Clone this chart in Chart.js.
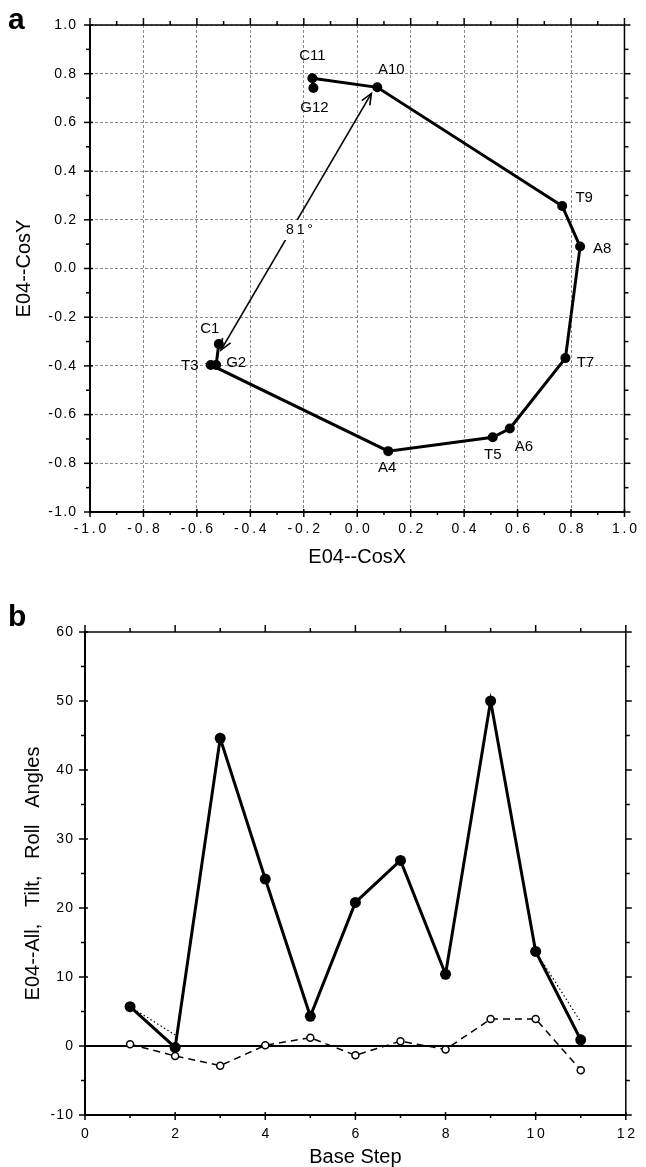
<!DOCTYPE html>
<html>
<head>
<meta charset="utf-8">
<script src="https://cdn.jsdelivr.net/npm/chart.js@4.4.1/dist/chart.umd.min.js"></script>
<style>
  html, body { margin: 0; padding: 0; background: #fff; }
  body { width: 646px; height: 1167px; position: relative; overflow: hidden; }
  .panel { position: absolute; left: 0; }
  .tag { position: absolute; left: 8px; font: bold 30px "Liberation Sans", Arial, sans-serif; line-height: 1; color: #000; }
</style>
</head>
<body>
<canvas id="cosPlot" class="panel" style="top:0" width="646" height="580"></canvas>
<canvas id="anglePlot" class="panel" style="top:580px" width="646" height="587"></canvas>
<div class="tag" style="top:4px">a</div>
<div class="tag" style="top:601px">b</div>
<script>
// Panel a: direction cosines per base step
const stepNames = ['C1', 'G2', 'T3', 'A4', 'T5', 'A6', 'T7', 'A8', 'T9', 'A10', 'C11', 'G12'];
const cosX = [-0.518, -0.528, -0.548, 0.116, 0.507, 0.571, 0.779, 0.834, 0.767, 0.075, -0.168, -0.164];
const cosY = [-0.31, -0.396, -0.396, -0.750, -0.693, -0.657, -0.368, 0.090, 0.257, 0.744, 0.781, 0.741];
const cosTicks = [-1.0, -0.8, -0.6, -0.4, -0.2, 0.0, 0.2, 0.4, 0.6, 0.8, 1.0];
const cosMinor = [-0.9, -0.7, -0.5, -0.3, -0.1, 0.1, 0.3, 0.5, 0.7, 0.9];
const arrowFrom = [-0.51, -0.335];
const arrowTo = [0.053, 0.719];
const angleText = '81°';
const angleTextAt = [-0.216, 0.158];

// Panel b: angles per base step
const baseSteps = [1, 2, 3, 4, 5, 6, 7, 8, 9, 10, 11];
const allAngle = [5.7, -0.2, 44.6, 24.2, 4.3, 20.8, 26.9, 10.4, 50.0, 13.7, 0.9];
const tiltAngle = [0.25, -1.45, -2.85, 0.1, 1.2, -1.35, 0.7, -0.5, 3.9, 3.9, -3.5];
const rollAngle = [5.7, 1.6, null, null, null, null, null, null, null, 13.7, 3.5];
const stepTicks = [0, 2, 4, 6, 8, 10, 12];
const stepMinor = [1, 3, 5, 7, 9, 11];
const angleTicks = [-10, 0, 10, 20, 30, 40, 50, 60];
const angleMinor = [-5, 5, 15, 25, 35, 45, 55];

const family = '"Liberation Sans", Arial, Helvetica, sans-serif';
const spaced = s => s.split('').join('\u2009');
const hair = s => s.split('').join('\u200A');

// label offsets (px) from each point
const labelOffsets = {
    C1: [-9, -15], G2: [20, -2], T3: [-21, 1], A4: [-1, 17], T5: [0, 18], A6: [14, 18],
    T7: [20, 5], A8: [22, 2], T9: [22, -8], A10: [14, -17], C11: [0, -22], G12: [1, 20]
};

// frame plus inward/outward ticks on all four sides
function frameTicks(xMajor, xMinor, yMajor, yMinor) {
    return {
        id: 'frameTicks',
        afterDraw(chart) {
            const { ctx, chartArea: a, scales: { x, y } } = chart;
            const line = (x1, y1, x2, y2, w) => {
                ctx.lineWidth = w;
                ctx.beginPath();
                ctx.moveTo(x1, y1);
                ctx.lineTo(x2, y2);
                ctx.stroke();
            };
            ctx.save();
            ctx.strokeStyle = '#000';
            ctx.setLineDash([]);
            line(a.left, a.top, a.right, a.top, 1.5);
            line(a.right, a.top, a.right, a.bottom, 1.5);
            line(a.left, a.bottom, a.right, a.bottom, 2);
            line(a.left, a.top - 1, a.left, a.bottom + 1, 2);
            xMajor.forEach(v => {
                const p = x.getPixelForValue(v);
                line(p, a.bottom - 3, p, a.bottom + 5, 1.5);
                line(p, a.top, p, a.top - 7, 1.5);
            });
            xMinor.forEach(v => {
                const p = x.getPixelForValue(v);
                line(p, a.bottom, p, a.bottom + 3, 1.5);
                line(p, a.top, p, a.top - 4, 1.5);
            });
            yMajor.forEach(v => {
                const p = y.getPixelForValue(v);
                line(a.left - 6, p, a.left + 3, p, 1.5);
                line(a.right, p, a.right + 6, p, 1.5);
            });
            yMinor.forEach(v => {
                const p = y.getPixelForValue(v);
                line(a.left - 4, p, a.left, p, 1.5);
                line(a.right, p, a.right + 4, p, 1.5);
            });
            ctx.restore();
        }
    };
}

const pointLabels = {
    id: 'pointLabels',
    afterDatasetsDraw(chart) {
        const { ctx } = chart;
        const meta = chart.getDatasetMeta(0);
        ctx.save();
        ctx.font = '15px ' + family;
        ctx.fillStyle = '#000';
        ctx.textAlign = 'center';
        ctx.textBaseline = 'middle';
        meta.data.forEach((pt, i) => {
            const [dx, dy] = labelOffsets[stepNames[i]];
            ctx.fillText(stepNames[i], pt.x + dx, pt.y + dy);
        });
        ctx.restore();
    }
};

const angleArrow = {
    id: 'angleArrow',
    afterDatasetsDraw(chart) {
        const { ctx, scales: { x, y } } = chart;
        const x1 = x.getPixelForValue(arrowFrom[0]), y1 = y.getPixelForValue(arrowFrom[1]);
        const x2 = x.getPixelForValue(arrowTo[0]), y2 = y.getPixelForValue(arrowTo[1]);
        ctx.save();
        ctx.strokeStyle = '#000';
        ctx.lineWidth = 1.6;
        ctx.beginPath();
        ctx.moveTo(x1, y1);
        ctx.lineTo(x2, y2);
        ctx.stroke();
        const head = (tx, ty, fx, fy) => {
            const ang = Math.atan2(ty - fy, tx - fx);
            ctx.beginPath();
            ctx.moveTo(tx - 12 * Math.cos(ang - 0.4), ty - 12 * Math.sin(ang - 0.4));
            ctx.lineTo(tx, ty);
            ctx.lineTo(tx - 12 * Math.cos(ang + 0.4), ty - 12 * Math.sin(ang + 0.4));
            ctx.stroke();
        };
        head(x2, y2, x1, y1);
        head(x1, y1, x2, y2);
        const lx = x.getPixelForValue(angleTextAt[0]), ly = y.getPixelForValue(angleTextAt[1]);
        ctx.font = '14px ' + family;
        const txt = spaced(angleText);
        const w = ctx.measureText(txt).width;
        ctx.fillStyle = '#fff';
        ctx.fillRect(lx - w / 2 - 4, ly - 10, w + 8, 20);
        ctx.fillStyle = '#000';
        ctx.textAlign = 'center';
        ctx.textBaseline = 'middle';
        ctx.fillText(txt, lx, ly);
        ctx.restore();
    }
};

new Chart(document.getElementById('cosPlot'), {
    type: 'scatter',
    data: {
        datasets: [{
            data: cosX.map((v, i) => ({ x: v, y: cosY[i] })),
            showLine: true,
            borderColor: '#000',
            borderWidth: 3,
            pointRadius: 5,
            pointBackgroundColor: '#000',
            pointBorderWidth: 0
        }]
    },
    options: {
        responsive: false,
        animation: false,
        events: [],
        layout: { padding: { left: 0, right: 14, top: 25, bottom: 0 } },
        plugins: { legend: { display: false }, tooltip: { enabled: false } },
        scales: {
            x: {
                type: 'linear', min: -1, max: 1,
                afterBuildTicks: s => { s.ticks = cosTicks.map(v => ({ value: v })); },
                afterFit: s => { s.height = 68; },
                grid: { color: '#8a8a8a', lineWidth: 1, drawTicks: false },
                border: { display: false, dash: [3, 2] },
                ticks: { padding: 9, color: '#000', maxRotation: 0, autoSkip: false, font: { size: 14, family },
                    callback: v => spaced(v.toFixed(1)) },
                title: { display: true, text: 'E04--CosX', color: '#000', font: { size: 20, family }, padding: { top: 0, bottom: 11 } }
            },
            y: {
                type: 'linear', min: -1, max: 1,
                afterBuildTicks: s => { s.ticks = cosTicks.map(v => ({ value: v })); },
                afterFit: s => { s.width = 90; },
                grid: { color: '#8a8a8a', lineWidth: 1, drawTicks: false },
                border: { display: false, dash: [3, 2] },
                ticks: { padding: 14, color: '#000', autoSkip: false, font: { size: 14, family },
                    callback: v => hair(v.toFixed(1)) },
                title: { display: true, text: 'E04--CosY', color: '#000', font: { size: 20, family }, padding: { top: 12, bottom: 0 } }
            }
        }
    },
    plugins: [angleArrow, pointLabels, frameTicks(cosTicks, cosMinor, cosTicks, cosMinor)]
});

const pts = arr => arr.map((v, i) => ({ x: baseSteps[i], y: v }));

new Chart(document.getElementById('anglePlot'), {
    type: 'scatter',
    data: {
        datasets: [
            {
                data: pts(allAngle), showLine: true, borderColor: '#000', borderWidth: 3,
                pointRadius: 5.5, pointBackgroundColor: '#000', pointBorderWidth: 0
            },
            {
                data: pts(tiltAngle), showLine: true, borderColor: '#000', borderWidth: 1.5, borderDash: [7, 5],
                pointRadius: 3.5, pointBackgroundColor: '#fff', pointBorderColor: '#000', pointBorderWidth: 1.5
            },
            {
                data: pts(rollAngle), showLine: true, spanGaps: false, borderColor: '#000', borderWidth: 1.2,
                borderDash: [1.5, 2.5], pointRadius: 0
            }
        ]
    },
    options: {
        responsive: false,
        animation: false,
        events: [],
        layout: { padding: { left: 0, right: 20, top: 52, bottom: 0 } },
        plugins: { legend: { display: false }, tooltip: { enabled: false } },
        scales: {
            x: {
                type: 'linear', min: 0, max: 12,
                afterBuildTicks: s => { s.ticks = stepTicks.map(v => ({ value: v })); },
                afterFit: s => { s.height = 52; },
                grid: { display: false, drawTicks: false },
                border: { display: false },
                ticks: { padding: 11, color: '#000', maxRotation: 0, autoSkip: false, font: { size: 14, family },
                    callback: v => spaced(String(v)) },
                title: { display: true, text: 'Base Step', color: '#000', font: { size: 20, family, lineHeight: 1 }, padding: { top: 0, bottom: 0 } }
            },
            y: {
                type: 'linear', min: -10, max: 60,
                afterBuildTicks: s => { s.ticks = angleTicks.map(v => ({ value: v })); },
                afterFit: s => { s.width = 85; },
                grid: { drawTicks: false, lineWidth: 2, color: c => (c.tick && c.tick.value === 0 ? '#000' : 'rgba(0,0,0,0)') },
                border: { display: false },
                ticks: { padding: 12, color: '#000', autoSkip: false, font: { size: 14, family },
                    callback: v => hair(String(v)) },
                title: { display: true, text: 'E04--All,   Tilt,   Roll   Angles', color: '#000', font: { size: 20, family }, padding: { top: 21, bottom: 0 } }
            }
        }
    },
    plugins: [frameTicks(stepTicks, stepMinor, angleTicks, angleMinor)]
});
</script>
</body>
</html>
